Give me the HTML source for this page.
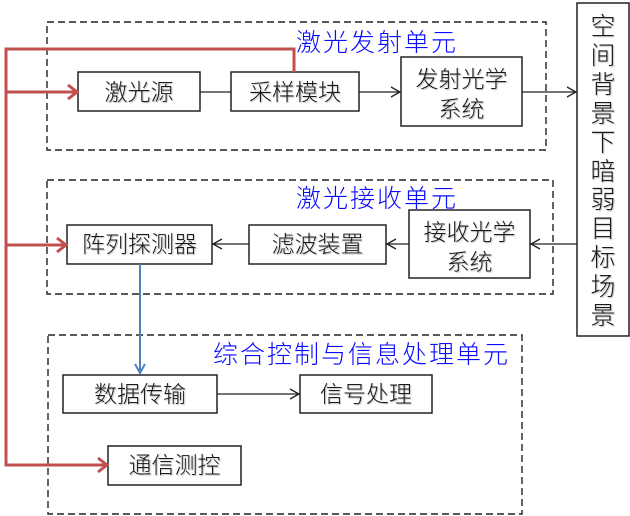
<!DOCTYPE html>
<html><head><meta charset="utf-8">
<style>
html,body{margin:0;padding:0;background:#fff;}
svg{display:block;}
text{font-family:"Liberation Sans","Noto Sans CJK SC",sans-serif;font-weight:300;}
.t{font-size:23px;fill:#1a1a1a;text-anchor:middle;dominant-baseline:central;text-shadow:1px 1px 1px rgba(0,0,0,0.25);}
.v{font-size:25px;}
.h{font-size:25px;fill:#0a0aff;dominant-baseline:central;letter-spacing:2px;}
</style></head>
<body>
<svg width="630" height="516" viewBox="0 0 630 516" xmlns="http://www.w3.org/2000/svg">
<g fill="none" stroke="#222" stroke-width="1.4" stroke-dasharray="7,4">
<rect x="47" y="22" width="499" height="128"/>
<rect x="47" y="180" width="506" height="114"/>
<rect x="48" y="335" width="474" height="179"/>
</g>
<g fill="#fff" stroke="#222" stroke-width="1.5">
<rect x="78" y="72" width="122" height="39"/>
<rect x="231" y="72" width="128" height="39"/>
<rect x="401" y="57" width="121" height="69"/>
<rect x="577" y="3" width="52" height="333"/>
<rect x="67" y="225" width="145" height="39"/>
<rect x="249" y="225" width="137" height="39"/>
<rect x="409" y="210" width="121" height="68"/>
<rect x="63" y="375" width="154" height="38"/>
<rect x="300" y="375" width="132" height="38"/>
<rect x="108" y="446" width="133" height="39"/>
</g>
<g stroke="#222" stroke-width="1.3" fill="none">
<line x1="200" y1="92" x2="231" y2="92"/>
<line x1="359" y1="92" x2="400" y2="92"/>
<polyline points="391,87 400,92 391,97"/>
<line x1="522" y1="92" x2="576" y2="92"/>
<polyline points="567,87 576,92 567,97"/>
<line x1="577" y1="244" x2="531" y2="244"/>
<polyline points="540,239 531,244 540,249"/>
<line x1="409" y1="244" x2="387" y2="244"/>
<polyline points="396,239 387,244 396,249"/>
<line x1="249" y1="244" x2="213" y2="244"/>
<polyline points="222,239 213,244 222,249"/>
<line x1="217" y1="394" x2="299" y2="394"/>
<polyline points="290,389 299,394 290,399"/>
</g>
<g stroke="#4f81bd" stroke-width="2" fill="none">
<line x1="140" y1="264" x2="140" y2="373"/>
<polyline points="135,364 140,373 145,364"/>
</g>
<g stroke="#c0504d" stroke-width="3" fill="none" stroke-linejoin="miter">
<polyline points="294,72 294,49 6,49 6,465 106,465"/>
<line x1="6" y1="92" x2="76" y2="92"/>
<line x1="6" y1="245" x2="65" y2="245"/>
<polyline points="68,85 77,92 68,99"/>
<polyline points="57,238 66,245 57,252"/>
<polyline points="98,458 107,465 98,472"/>
</g>
<text class="h" x="296" y="43">激光发射单元</text>
<text class="h" x="296" y="199">激光接收单元</text>
<text class="h" x="213" y="355">综合控制与信息处理单元</text>
<text class="t" x="139" y="92">激光源</text>
<text class="t" x="295" y="92">采样模块</text>
<text class="t" x="461.5" y="79">发射光学</text>
<text class="t" x="461.5" y="109">系统</text>
<text class="t" x="139.5" y="244">阵列探测器</text>
<text class="t" x="317.5" y="244">滤波装置</text>
<text class="t" x="469.5" y="232">接收光学</text>
<text class="t" x="469.5" y="262">系统</text>
<text class="t" x="140" y="394">数据传输</text>
<text class="t" x="366" y="394">信号处理</text>
<text class="t" x="174.5" y="465">通信测控</text>
<text class="t v" x="603" y="27">空</text>
<text class="t v" x="603" y="56">间</text>
<text class="t v" x="603" y="85">背</text>
<text class="t v" x="603" y="114">景</text>
<text class="t v" x="603" y="143">下</text>
<text class="t v" x="603" y="172">暗</text>
<text class="t v" x="603" y="200">弱</text>
<text class="t v" x="603" y="229">目</text>
<text class="t v" x="603" y="258">标</text>
<text class="t v" x="603" y="287">场</text>
<text class="t v" x="603" y="316">景</text>
</svg>
</body></html>
